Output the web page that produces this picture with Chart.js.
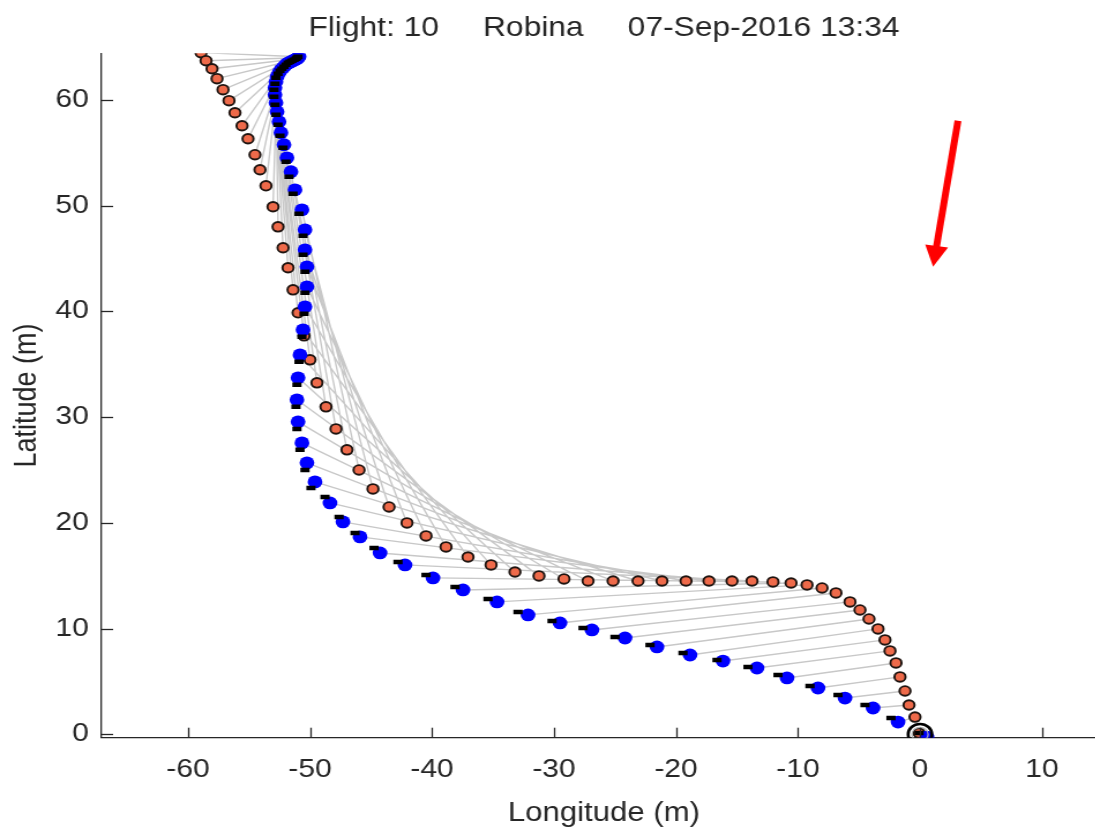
<!DOCTYPE html>
<html>
<head>
<meta charset="utf-8">
<title>Flight 10 track</title>
<script src="https://cdn.jsdelivr.net/npm/chart.js@4.4.1/dist/chart.umd.min.js"></script>
<style>
  html, body { margin: 0; padding: 0; background: #ffffff; width: 1095px; height: 830px; overflow: hidden; }
  /* the plot is drawn at equal metres per pixel, then widened horizontally */
  #wrap { position: absolute; left: 0; top: 0; width: 960px; height: 830px; transform: scaleX(1.1542); transform-origin: 0 0; }
  canvas { display: block; }
</style>
</head>
<body>
<div id="wrap"><canvas id="chart" width="960" height="830"></canvas></div>
<script>
// Tracked positions relative to the take-off point, metres (east, north)
const orangeLon = [
  -58.93, -58.52, -58.03, -57.62, -57.13, -56.64, -56.15, -55.57, -55.08, -54.51,
  -54.10, -53.61, -53.03, -52.62, -52.21, -51.80, -51.39, -50.98, -50.49, -50.00,
  -49.43, -48.69, -47.87, -46.97, -45.98, -44.84, -43.52, -42.05, -40.49, -38.85,
  -37.05, -35.16, -33.20, -31.23, -29.18, -27.21, -25.16, -23.11, -21.15, -19.18,
  -17.30, -15.41, -13.77, -12.05, -10.57, -9.26, -8.03, -6.89, -5.74, -4.92,
  -4.18, -3.44, -2.87, -2.46, -1.97, -1.64, -1.23, -0.90, -0.41, -0.08
];
const orangeLat = [
  64.46, 63.70, 62.94, 62.00, 60.96, 59.92, 58.78, 57.55, 56.32, 54.81,
  53.39, 51.87, 49.89, 47.99, 46.01, 44.12, 42.03, 39.86, 37.68, 35.41,
  33.24, 30.97, 28.88, 26.90, 25.00, 23.21, 21.50, 19.99, 18.76, 17.72,
  16.77, 16.02, 15.35, 14.98, 14.69, 14.50, 14.50, 14.50, 14.50, 14.50,
  14.50, 14.50, 14.50, 14.41, 14.31, 14.13, 13.84, 13.37, 12.52, 11.76,
  10.91, 9.97, 8.93, 7.89, 6.75, 5.43, 4.10, 2.77, 1.63, 0.12
];
const blueLon = [
  -50.90, -50.98, -51.07, -51.23, -51.39, -51.56, -51.72, -51.89, -52.05, -52.21,
  -52.38, -52.54, -52.70, -52.79, -52.87, -52.87, -52.79, -52.70, -52.54, -52.38,
  -52.13, -51.89, -51.56, -51.23, -50.66, -50.41, -50.41, -50.25, -50.25, -50.41,
  -50.57, -50.82, -50.98, -51.07, -50.98, -50.66, -50.25, -49.59, -48.36, -47.30,
  -45.90, -44.26, -42.21, -39.92, -37.46, -34.67, -32.13, -29.51, -26.89, -24.18,
  -21.56, -18.85, -16.15, -13.36, -10.90, -8.36, -6.15, -3.85, -1.80, 0.57
];
const blueLat = [
  64.08, 63.98, 63.89, 63.79, 63.70, 63.60, 63.51, 63.41, 63.23, 63.04,
  62.85, 62.56, 62.18, 61.71, 61.14, 60.48, 59.73, 58.87, 57.93, 56.89,
  55.75, 54.52, 53.20, 51.49, 49.60, 47.71, 45.82, 44.21, 42.32, 40.43,
  38.25, 35.88, 33.71, 31.63, 29.55, 27.56, 25.67, 23.87, 21.88, 20.09,
  18.67, 17.15, 16.02, 14.79, 13.65, 12.52, 11.29, 10.53, 9.87, 9.11,
  8.26, 7.50, 6.93, 6.27, 5.33, 4.38, 3.43, 2.49, 1.16, -0.26
];
const blackLon = [
  -50.98, -51.07, -51.15, -51.31, -51.48, -51.64, -51.80, -51.97, -52.13, -52.30,
  -52.46, -52.62, -52.79, -52.87, -52.95, -52.95, -52.87, -52.79, -52.62, -52.46,
  -52.21, -51.97, -51.72, -51.39, -50.90, -50.57, -50.57, -50.41, -50.41, -50.49,
  -50.66, -50.90, -51.07, -51.15, -51.07, -50.82, -50.41, -49.92, -48.77, -47.62,
  -46.31, -44.75, -42.79, -40.49, -38.11, -35.41, -32.95, -30.16, -27.62, -25.00,
  -22.13, -19.43, -16.64, -14.10, -11.64, -9.02, -6.72, -4.51, -2.38, -0.08
];
const blackLat = [
  64.08, 63.98, 63.89, 63.79, 63.70, 63.60, 63.51, 63.32, 63.13, 62.94,
  62.75, 62.47, 62.09, 61.52, 60.96, 60.29, 59.54, 58.59, 57.65, 56.61,
  55.47, 54.15, 52.73, 51.12, 49.23, 47.15, 45.35, 43.74, 41.76, 39.77,
  37.59, 35.22, 33.05, 30.97, 28.88, 26.90, 25.00, 23.30, 22.45, 20.56,
  19.04, 17.63, 16.30, 15.07, 13.94, 12.80, 11.57, 10.72, 10.06, 9.21,
  8.45, 7.69, 7.03, 6.37, 5.61, 4.57, 3.72, 2.77, 1.54, 0.12
];
// Take-off point and wind direction arrow (tail, tip)
const homeLon = [0];
const homeLat = [0];
const arrowLon = [3.11, 1.07];
const arrowLat = [58.02, 44.21];
// Axis ticks
const lonTicks = [-60, -50, -40, -30, -20, -10, 0, 10];
const latTicks = [0, 10, 20, 30, 40, 50, 60];
const titleText = 'Flight: 10     Robina     07-Sep-2016 13:34';

const FONT = "'Liberation Sans', Arial, Helvetica, sans-serif";
const INK = '#262626';

const toPoints = (xs, ys) => xs.map((v, i) => ({ x: v, y: ys[i] }));

// one grey segment per sample, joining the two tracks at the same instant
const links = [];
orangeLon.forEach((v, i) => {
  links.push({ x: v, y: orangeLat[i] }, { x: blueLon[i], y: blueLat[i] }, { x: NaN, y: NaN });
});

const overlay = {
  id: 'overlay',
  afterDraw(chart) {
    const { ctx, chartArea: a, scales: { x, y } } = chart;
    ctx.save();
    // inward tick marks
    ctx.strokeStyle = INK;
    ctx.lineWidth = 1.3;
    const len = 10;
    x.ticks.forEach(t => {
      const px = Math.round(x.getPixelForValue(t.value)) + 0.5;
      ctx.beginPath(); ctx.moveTo(px, a.bottom); ctx.lineTo(px, a.bottom - len); ctx.stroke();
    });
    y.ticks.forEach(t => {
      const py = Math.round(y.getPixelForValue(t.value)) + 0.5;
      ctx.beginPath(); ctx.moveTo(a.left, py); ctx.lineTo(a.left + len, py); ctx.stroke();
    });
    // wind arrow
    const x0 = x.getPixelForValue(arrowLon[0]), y0 = y.getPixelForValue(arrowLat[0]);
    const x1 = x.getPixelForValue(arrowLon[1]), y1 = y.getPixelForValue(arrowLat[1]);
    const d = Math.hypot(x1 - x0, y1 - y0), ux = (x1 - x0) / d, uy = (y1 - y0) / d;
    const headLen = 21, headHalf = 10;
    const bx = x1 - ux * headLen, by = y1 - uy * headLen;
    ctx.strokeStyle = '#ff0000';
    ctx.fillStyle = '#ff0000';
    ctx.lineWidth = 6;
    ctx.beginPath(); ctx.moveTo(x0, y0); ctx.lineTo(bx + ux * 2, by + uy * 2); ctx.stroke();
    ctx.beginPath();
    ctx.moveTo(x1, y1);
    ctx.lineTo(bx - uy * headHalf, by + ux * headHalf);
    ctx.lineTo(bx + uy * headHalf, by - ux * headHalf);
    ctx.closePath(); ctx.fill();
    ctx.restore();
  }
};

new Chart(document.getElementById('chart'), {
  type: 'scatter',
  data: {
    datasets: [
      { label: 'links', data: links, showLine: true, spanGaps: false, borderColor: '#c8c8c8', borderWidth: 1.4, pointRadius: 0, order: 5 },
      { label: 'orange track', data: toPoints(orangeLon, orangeLat), backgroundColor: '#ee6a4a', borderColor: '#1e1410', borderWidth: 1.9, pointRadius: 4.8, order: 4 },
      { label: 'blue track', data: toPoints(blueLon, blueLat), backgroundColor: '#0000ff', borderColor: '#0000ff', borderWidth: 0, pointRadius: 6.4, order: 3 },
      { label: 'black track', data: toPoints(blackLon, blackLat), pointStyle: 'line', backgroundColor: '#000000', borderColor: '#000000', borderWidth: 4.5, pointRadius: 4, order: 2 },
      { label: 'home inner', data: toPoints(homeLon, homeLat), backgroundColor: 'rgba(0,0,0,0)', borderColor: '#b4b4b4', borderWidth: 1.2, pointRadius: 7, order: 1 },
      { label: 'home', data: toPoints(homeLon, homeLat), backgroundColor: 'rgba(0,0,0,0)', borderColor: '#000000', borderWidth: 2.6, pointRadius: 10.3, order: 0 }
    ]
  },
  options: {
    responsive: false,
    animation: false,
    events: [],
    devicePixelRatio: 1,
    layout: { autoPadding: false, padding: { left: 0, right: 1.5, top: 0, bottom: 0 } },
    plugins: {
      legend: { display: false },
      tooltip: { enabled: false },
      title: {
        display: true, text: titleText, fullSize: false, color: INK,
        font: { family: FONT, size: 27.5, weight: 'normal' },
        padding: { top: 12, bottom: 8.3 }
      }
    },
    scales: {
      x: {
        type: 'linear', position: 'bottom', min: -67.08, max: 15.27,
        grid: { display: false, drawTicks: false },
        border: { display: true, color: INK, width: 1.3 },
        ticks: { color: INK, font: { family: FONT, size: 26 }, padding: 16.7, maxRotation: 0, autoSkip: false, callback: v => String(v) },
        title: { display: true, text: 'Longitude (m)', color: INK, font: { family: FONT, size: 27 }, padding: { top: 0, bottom: 0 } },
        afterBuildTicks: s => { s.ticks = lonTicks.map(v => ({ value: v })); },
        afterFit: s => { s.height = 92.3; }
      },
      y: {
        type: 'linear', position: 'left', min: -0.32, max: 64.4,
        grid: { display: false, drawTicks: false },
        border: { display: true, color: INK, width: 1.3 },
        ticks: { color: INK, font: { family: FONT, size: 26 }, padding: 11, autoSkip: false, callback: v => String(v) },
        title: { display: true, text: 'Latitude (m)', color: INK, font: { family: FONT, size: 27 }, padding: { top: 7.6, bottom: 0 } },
        afterBuildTicks: s => { s.ticks = latTicks.map(v => ({ value: v })); },
        afterFit: s => { s.width = 88.03; }
      }
    }
  },
  plugins: [overlay]
});
</script>
</body>
</html>
